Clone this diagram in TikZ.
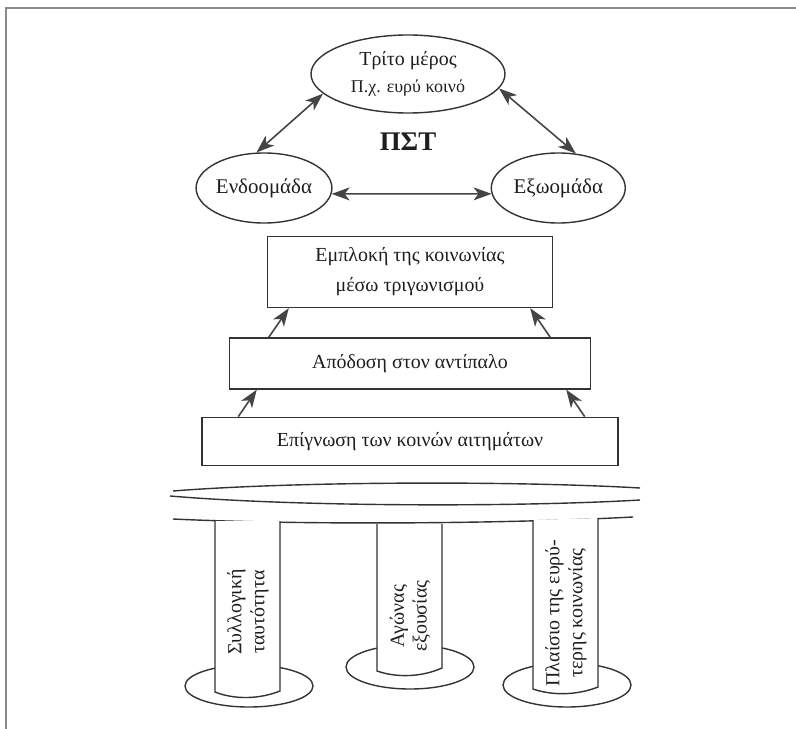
\documentclass[tikz,border=0pt]{standalone}
\usepackage{fontspec}
\setmainfont{Liberation Serif}
\usetikzlibrary{arrows.meta, positioning, shapes}
\definecolor{linegray}{HTML}{333333}
\definecolor{arrowgray}{HTML}{454545}
\definecolor{textgray}{HTML}{1E1E1E}
\definecolor{framegray}{HTML}{8A8A8A}
\tikzset{group node/.style={ellipse,draw=linegray,line width=1.4bp,inner sep=0pt,minimum width=134bp,minimum height=70bp,text=textgray,font=\fontsize{21}{24}\selectfont},
  level box/.style={rectangle,draw=linegray,line width=1.4bp,inner sep=0pt,text=textgray,font=\fontsize{20}{30}\selectfont},
  both arrow/.style={arrowgray,line width=1.6bp,{Stealth[length=18bp,width=13bp,inset=5bp]}-{Stealth[length=18bp,width=13bp,inset=5bp]}},
  up arrow/.style={arrowgray,line width=1.6bp,-{Stealth[length=18bp,width=13bp,inset=5bp]}},
  pillar line/.style={draw=linegray,line width=1.4bp},
  pillar text/.style={rotate=90,align=center,text=textgray,font=\fontsize{20}{23}\selectfont},}

\begin{document}
\begin{tikzpicture}[x=1bp,y=-1bp]
       \useasboundingbox (0,0) rectangle (796,729);
       \draw[framegray, line width=2bp] (6,729) -- (6,8) -- (796,8);

       \node[group node, minimum width=194bp, minimum height=78bp, align=center, font=\fontsize{20}{27}\selectfont] (third) at (408,74) {Τρίτο μέρος\\{\fontsize{18}{20}\selectfont Π.χ. ευρύ κοινό}};
       \node[group node] (ingroup) at (264,188) {Ενδοομάδα};
       \node[group node] (outgroup) [right = 158bp of ingroup] {Εξωομάδα};
       \node[text=textgray, font=\bfseries\fontsize{27}{30}\selectfont] (pst) at (408,142) {ΠΣΤ};

       \path[both arrow]
       (ingroup.102) edge (third.193)
       (third.351) edge (outgroup.63)
       (ingroup.-5) edge (outgroup.185);

       \node[level box, minimum width=285bp, minimum height=71bp, align=center] (involve) at (410,272) {Εμπλοκή της κοινωνίας\\μέσω τριγωνισμού};
       \node[level box, minimum width=361bp, minimum height=51bp] (attrib) [below = 29bp of involve] {Απόδοση στον αντίπαλο};
       \node[level box, minimum width=416bp, minimum height=48bp] (aware) [below = 27bp of attrib] {Επίγνωση των κοινών αιτημάτων};

       \path[up arrow]
       ([xshift=40bp]attrib.north west) edge ([xshift=22bp]involve.south west)
       ([xshift=-41bp]attrib.north east) edge ([xshift=-23bp]involve.south east)
       ([xshift=37bp]aware.north west) edge ([xshift=28bp]attrib.south west)
       ([xshift=-34bp]aware.north east) edge ([xshift=-25bp]attrib.south east);

       % platform
       \draw[pillar line] (173,491) .. controls (300,481) and (520,481) .. (640,488);
       \draw[pillar line] (170,496) .. controls (300,507) and (520,507) .. (640,500);
       \draw[pillar line] (173,519) .. controls (300,525) and (500,524) .. (633,517);

       % pillars
       \draw[pillar line] (249,686) ellipse [x radius=64bp, y radius=21bp];
       \draw[pillar line] (410,667) ellipse [x radius=64bp, y radius=22bp];
       \draw[pillar line] (567,685) ellipse [x radius=64bp, y radius=22bp];
       \draw[pillar line, fill=white] (215,521) -- (215,692) .. controls (235,700) and (260,699) .. (280,691) -- (280,521);
       \draw[pillar line, fill=white] (377,524) -- (377,671) .. controls (397,678) and (422,677) .. (442,668) -- (442,524);
       \draw[pillar line, fill=white] (533,520) -- (533,689) .. controls (553,696) and (578,695) .. (598,687) -- (598,518);
       \node[pillar text] (identity) at (248,612) {Συλλογική\\ταυτότητα};
       \node[pillar text] (power) at (410,616) {Αγώνας\\εξουσίας};
       \node[pillar text] (society) at (566,613) {Πλαίσιο της ευρύ-\\τερης κοινωνίας};
\end{tikzpicture}
\end{document}
